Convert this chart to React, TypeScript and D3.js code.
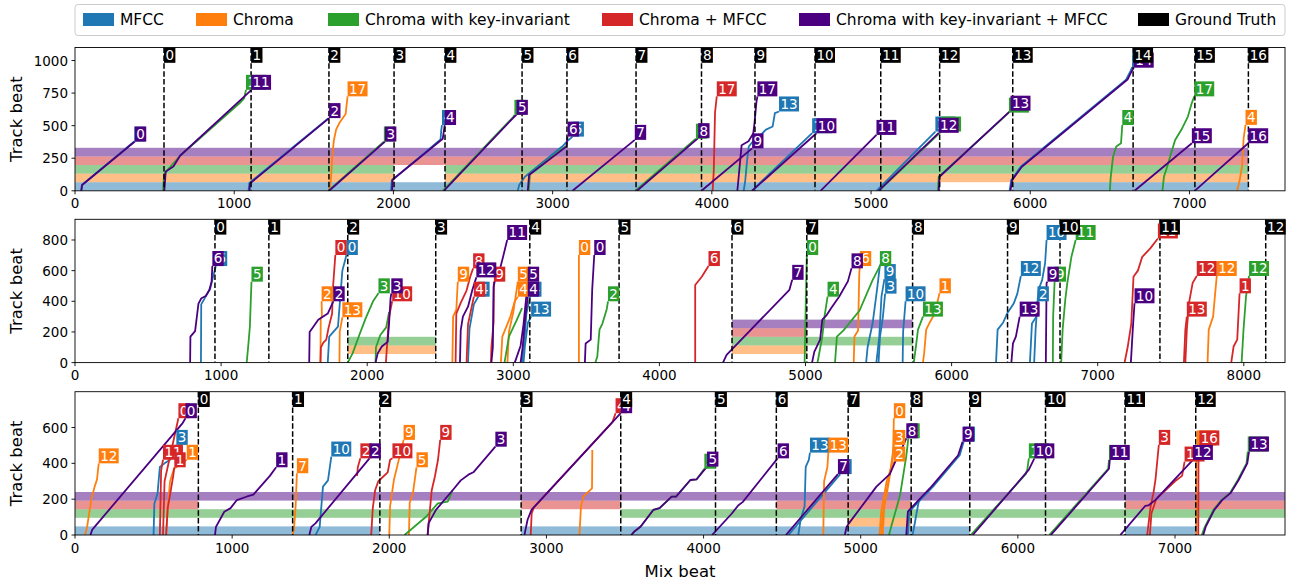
//@ts-nocheck
import React from 'react'
import * as d3 from 'd3'

type Seg = { label: string | null; pts: number[][] }

const methodNames = ['MFCC', 'Chroma', 'Chroma with key-invariant', 'Chroma + MFCC', 'Chroma with key-invariant + MFCC']
const methodColors = ['#1f77b4', '#ff7f0e', '#2ca02c', '#d62728', '#4b0082']

// ---------- panel 1 ----------
const p1Truth = [559, 1106, 1595, 2004, 2324, 2808, 3090, 3524, 3935, 4271, 4648, 5061, 5431, 5890, 6646, 7034, 7370]
const p1Bands = [
  [[0, 5431], [5890, 7370]],
  [[0, 2004], [2324, 7370]],
  [[0, 2004], [2324, 7370]],
  [[0, 7370]],
  [[0, 7370]]
]
const p1Mfcc: Seg[] = [
  { label: '0', pts: [[38, 0], [43, 45], [372, 378]] },
  { label: null, pts: [[1090, 0], [1095, 60], [1590, 555]] },
  { label: '4', pts: [[1985, 0], [1990, 80], [2296, 395], [2300, 460], [2305, 505]] },
  { label: '5', pts: [[2781, 0], [2790, 45], [2826, 108], [3060, 340], [3100, 390], [3125, 416]] },
  { label: '13', pts: [[4200, 0], [4210, 80], [4222, 240], [4232, 340], [4265, 390], [4300, 420], [4340, 470], [4382, 494], [4396, 596], [4422, 609]] },
  { label: '10', pts: [[4250, 0], [4630, 442]] },
  { label: '12', pts: [[5034, 0], [5404, 455]] },
  { label: '14', pts: [[5870, 0], [5880, 80], [5940, 185], [6600, 850], [6630, 920], [6640, 950]] }
]
const p1Chroma: Seg[] = [
  { label: '17', pts: [[1596, 0], [1605, 60], [1610, 135], [1615, 250], [1625, 380], [1640, 470], [1660, 520], [1700, 590], [1712, 725]] },
  { label: '4', pts: [[7300, 0], [7315, 80], [7330, 185], [7340, 400], [7352, 506]] }
]
const p1ChromaKi: Seg[] = [
  { label: '11', pts: [[553, 0], [560, 130], [660, 269], [1040, 680], [1062, 710], [1074, 775]] },
  { label: '3', pts: [[1590, 0], [1940, 378]] },
  { label: null, pts: [[2850, 0], [2858, 130], [2880, 150], [3080, 340]] },
  { label: '5', pts: [[2310, 0], [2755, 570], [2760, 583]] },
  { label: '8', pts: [[3520, 0], [3900, 400]] },
  { label: '12', pts: [[5050, 0], [5440, 455]] },
  { label: '13', pts: [[5420, 0], [5425, 108], [5866, 600]] },
  { label: '4', pts: [[6500, 0], [6505, 100], [6520, 262], [6540, 340], [6570, 365], [6578, 505]] },
  { label: '17', pts: [[6830, 0], [6840, 110], [6860, 185], [6885, 290], [6910, 390], [6950, 470], [6990, 570], [7015, 675], [7030, 725]] }
]
const p1ChromaMfcc: Seg[] = [
  { label: '17', pts: [[4005, 0], [4012, 150], [4020, 600], [4031, 725]] }
]
const p1KiMfcc: Seg[] = [
  { label: '0', pts: [[40, 0], [45, 45], [376, 378]] },
  { label: '11', pts: [[561, 0], [570, 149], [618, 187], [660, 269], [1100, 765], [1106, 775]] },
  { label: '2', pts: [[1095, 0], [1100, 57], [1596, 558]] },
  { label: '3', pts: [[1596, 0], [1947, 378]] },
  { label: '4', pts: [[1992, 0], [1994, 85], [2310, 400], [2322, 505]] },
  { label: '5', pts: [[2317, 0], [2760, 570], [2773, 583]] },
  { label: '6', pts: [[2844, 0], [2852, 121], [3086, 339], [3094, 416]] },
  { label: '7', pts: [[3125, 0], [3516, 391]] },
  { label: '8', pts: [[3530, 0], [3914, 404]] },
  { label: '9', pts: [[3935, 0], [4253, 326]] },
  { label: '17', pts: [[4160, 0], [4165, 60], [4187, 350], [4230, 380], [4260, 440], [4268, 520], [4280, 680], [4286, 725]] },
  { label: '10', pts: [[4253, 0], [4657, 442]] },
  { label: '11', pts: [[4683, 0], [5034, 429]] },
  { label: '12', pts: [[5047, 0], [5425, 445]] },
  { label: '13', pts: [[5425, 0], [5430, 108], [5876, 615]] },
  { label: '14', pts: [[5876, 0], [5886, 82], [5947, 185], [6611, 854], [6637, 918], [6650, 945]] },
  { label: '15', pts: [[6655, 0], [7015, 365]] },
  { label: '16', pts: [[7033, 0], [7369, 365]] }
]

// ---------- panel 2 ----------
const p2Truth = [958, 1327, 1867, 2469, 3113, 3724, 4497, 5009, 5733, 6383, 6742, 7426, 8150]
const p2Bands = [
  [],
  [[1867, 2469], [4497, 5009]],
  [[1867, 2469], [4497, 5733]],
  [[4497, 5009]],
  [[4497, 5733]]
]
const p2Mfcc: Seg[] = [
  { label: '6', pts: [[862, 0], [864, 380], [900, 440], [925, 480], [945, 560], [964, 630]] },
  { label: '0', pts: [[1730, 0], [1740, 170], [1800, 235], [1830, 600], [1858, 702]] },
  { label: '4', pts: [[2690, 0], [2700, 220], [2730, 380], [2760, 430]] },
  { label: '4', pts: [[3060, 0], [3075, 130], [3090, 320], [3115, 430]] },
  { label: '13', pts: [[3070, 0], [3080, 110], [3100, 260], [3122, 300]] },
  { label: null, pts: [[5415, 0], [5425, 100], [5460, 260], [5490, 480], [5510, 640]] },
  { label: '9', pts: [[5485, 0], [5505, 170], [5520, 430], [5540, 545]] },
  { label: '3', pts: [[5500, 0], [5510, 170], [5530, 300], [5545, 450]] },
  { label: '10', pts: [[5665, 0], [5668, 200], [5685, 400]] },
  { label: '12', pts: [[6304, 0], [6315, 215], [6352, 260], [6380, 320], [6425, 385], [6450, 450], [6474, 565]] },
  { label: '10', pts: [[6536, 0], [6550, 255], [6580, 300], [6595, 475], [6620, 540], [6640, 650], [6650, 800]] },
  { label: '2', pts: [[6565, 0], [6575, 215], [6588, 400]] }
]
const p2Chroma: Seg[] = [
  { label: '2', pts: [[1680, 0], [1682, 290], [1690, 300], [1688, 400]] },
  { label: '13', pts: [[1810, 0], [1812, 200], [1830, 296]] },
  { label: '9', pts: [[2583, 0], [2588, 300], [2610, 345], [2620, 528]] },
  { label: '4', pts: [[2915, 0], [2925, 170], [2980, 300], [3010, 400], [3031, 430]] },
  { label: '5', pts: [[2960, 0], [2970, 200], [3000, 330], [3031, 528]] },
  { label: '0', pts: [[3449, 0], [3449, 702]] },
  { label: '6', pts: [[5330, 0], [5335, 170], [5360, 210], [5368, 580], [5372, 630]] },
  { label: '1', pts: [[5804, 0], [5812, 60], [5826, 215], [5855, 270], [5885, 320], [5917, 452]] },
  { label: '12', pts: [[7752, 0], [7760, 215], [7790, 300], [7800, 410], [7815, 565]] }
]
const p2ChromaKi: Seg[] = [
  { label: '5', pts: [[1175, 0], [1185, 100], [1197, 235], [1203, 400], [1208, 528]] },
  { label: '3', pts: [[1867, 0], [1900, 60], [1950, 190], [1990, 290], [2040, 400], [2077, 452]] },
  { label: null, pts: [[2057, 0], [2060, 100], [2090, 180], [2130, 230], [2150, 330]] },
  { label: null, pts: [[2940, 0], [2970, 170], [3020, 270], [3060, 355]] },
  { label: '2', pts: [[3562, 0], [3575, 40], [3590, 215], [3610, 255], [3640, 350], [3648, 400]] },
  { label: '0', pts: [[4994, 0], [5000, 300], [5009, 702]] },
  { label: '4', pts: [[5082, 0], [5090, 40], [5115, 170], [5130, 300], [5151, 430]] },
  { label: '8', pts: [[5202, 0], [5215, 170], [5260, 210], [5370, 340], [5460, 540], [5509, 630]] },
  { label: '13', pts: [[5741, 0], [5755, 100], [5770, 215], [5804, 300]] },
  { label: '9', pts: [[6693, 0], [6695, 300], [6705, 528]] },
  { label: '11', pts: [[6750, 0], [6760, 215], [6778, 410], [6792, 520], [6820, 690], [6849, 800]] },
  { label: '12', pts: [[7985, 0], [7998, 215], [8015, 430], [8036, 565]] }
]
const p2ChromaMfcc: Seg[] = [
  { label: '0', pts: [[1680, 0], [1683, 100], [1700, 130], [1720, 150], [1735, 225], [1760, 320], [1765, 480], [1782, 702]] },
  { label: '10', pts: [[2128, 0], [2135, 100], [2150, 300], [2171, 400]] },
  { label: '8', pts: [[2605, 0], [2610, 320], [2640, 390], [2680, 470], [2705, 560], [2725, 615]] },
  { label: '4', pts: [[2680, 0], [2690, 250], [2730, 430]] },
  { label: '9', pts: [[2847, 0], [2850, 100], [2865, 260], [2867, 528]] },
  { label: '6', pts: [[4245, 0], [4245, 506], [4290, 560], [4336, 630]] },
  { label: '11', pts: [[7184, 0], [7205, 100], [7230, 255], [7245, 560], [7275, 600], [7305, 690], [7360, 745], [7412, 810]] },
  { label: '13', pts: [[7590, 0], [7600, 215], [7610, 300]] },
  { label: '12', pts: [[7600, 0], [7610, 215], [7625, 390], [7650, 520], [7678, 565]] },
  { label: '1', pts: [[7914, 0], [7930, 105], [7955, 150], [7971, 452]] }
]
const p2KiMfcc: Seg[] = [
  { label: '6', pts: [[788, 0], [790, 170], [822, 205], [845, 385], [865, 420], [895, 435], [920, 475], [935, 530], [940, 630]] },
  { label: '2', pts: [[1603, 0], [1606, 200], [1665, 280], [1730, 320], [1768, 400]] },
  { label: '3', pts: [[2057, 0], [2072, 60], [2100, 105], [2140, 135], [2150, 260], [2160, 420], [2165, 452]] },
  { label: '12', pts: [[2635, 0], [2640, 210], [2655, 300], [2690, 365], [2720, 475], [2747, 556]] },
  { label: '11', pts: [[2850, 0], [2860, 100], [2865, 495], [2880, 560], [2910, 615], [2930, 690], [2958, 800]] },
  { label: '5', pts: [[3010, 0], [3050, 110], [3070, 250], [3099, 528]] },
  { label: '4', pts: [[3050, 0], [3065, 110], [3080, 280], [3099, 430]] },
  { label: '0', pts: [[3490, 0], [3495, 125], [3530, 150], [3540, 475], [3554, 702]] },
  { label: '7', pts: [[4435, 0], [4460, 50], [4890, 475], [4909, 540]] },
  { label: '8', pts: [[5045, 0], [5060, 70], [5100, 150], [5115, 280], [5145, 310], [5175, 355], [5230, 430], [5290, 530], [5315, 615]] },
  { label: '13', pts: [[6409, 0], [6420, 125], [6440, 170], [6466, 300]] },
  { label: '9', pts: [[6645, 0], [6650, 520], [6656, 528]] },
  { label: '10', pts: [[7227, 0], [7240, 215], [7252, 387]] }
]

// ---------- panel 3 ----------
const p3Truth = [785, 1385, 1940, 2839, 3473, 4076, 4463, 4920, 5321, 5694, 6176, 6682, 7132]
const p3Bands = [
  [[0, 1940], [2839, 5694], [6682, 7132]],
  [[4920, 5321]],
  [[0, 2839], [3473, 7700]],
  [[0, 785], [2839, 3473], [4463, 5321], [6682, 7700]],
  [[0, 7700]]
]
const p3Mfcc: Seg[] = [
  { label: '3', pts: [[500, 0], [505, 175], [525, 230], [540, 380], [570, 400], [605, 420], [645, 503]] },
  { label: '10', pts: [[1531, 0], [1557, 45], [1578, 270], [1610, 305], [1631, 438]] },
  { label: '7', pts: [[4540, 0], [4870, 340]] },
  { label: '13', pts: [[4603, 0], [4617, 85], [4643, 160], [4650, 380], [4670, 420], [4677, 460]] },
  { label: null, pts: [[5330, 0], [5345, 70], [5355, 120], [5370, 190], [5380, 200]] },
  { label: '9', pts: [[5300, 0], [5310, 130], [5330, 150], [5460, 270], [5630, 445], [5655, 521]] }
]
const p3Chroma: Seg[] = [
  { label: '12', pts: [[64, 0], [77, 45], [103, 195], [125, 270], [140, 310], [151, 400]] },
  { label: '1', pts: [[580, 0], [590, 150], [605, 300], [630, 370], [711, 420]] },
  { label: '7', pts: [[1385, 0], [1393, 28], [1404, 160], [1412, 345]] },
  { label: '9', pts: [[2000, 0], [2005, 160], [2030, 310], [2055, 400], [2091, 531]] },
  { label: '5', pts: [[2125, 0], [2130, 180], [2150, 230], [2173, 378]] },
  { label: null, pts: [[3210, 0], [3220, 160], [3235, 215], [3290, 260], [3292, 475]] },
  { label: '13', pts: [[4762, 0], [4767, 300], [4775, 330], [4788, 380], [4794, 460]] },
  { label: '2', pts: [[5120, 0], [5130, 130], [5145, 200], [5165, 300], [5195, 380], [5211, 410]] },
  { label: '3', pts: [[5140, 0], [5150, 160], [5170, 250], [5185, 330], [5200, 430], [5211, 503]] },
  { label: '0', pts: [[5130, 0], [5140, 120], [5160, 220], [5180, 320], [5205, 430], [5211, 652]] },
  { label: '16', pts: [[7135, 0], [7137, 500]] }
]
const p3ChromaKi: Seg[] = [
  { label: null, pts: [[2097, 0], [2234, 102], [2309, 177], [2372, 186], [2403, 250]] },
  { label: '5', pts: [[3540, 0], [3560, 20], [3600, 47], [3680, 140], [3720, 150], [3797, 214], [3825, 214], [3916, 307], [3956, 311], [4005, 370]] },
  { label: '8', pts: [[5180, 0], [5195, 50], [5250, 220], [5290, 440], [5303, 540]] },
  { label: '10', pts: [[5700, 0], [6050, 340], [6060, 365], [6070, 428]] },
  { label: '11', pts: [[6200, 0], [6575, 370], [6580, 419]] },
  { label: '13', pts: [[7170, 0], [7190, 45], [7245, 140], [7295, 195], [7350, 235], [7400, 307], [7455, 400], [7463, 466]] }
]
const p3ChromaMfcc: Seg[] = [
  { label: '0', pts: [[560, 0], [570, 300], [620, 500], [650, 620], [658, 652]] },
  { label: '11', pts: [[540, 0], [548, 360], [560, 420]] },
  { label: '1', pts: [[580, 0], [590, 150], [610, 250], [625, 330], [632, 378]] },
  { label: '2', pts: [[1795, 330], [1800, 380], [1816, 428]] },
  { label: '10', pts: [[1885, 0], [1895, 150], [1910, 250], [1930, 300], [1990, 350], [2005, 420], [2020, 428]] },
  { label: '9', pts: [[2244, 0], [2270, 250], [2290, 325], [2310, 420], [2324, 531]] },
  { label: '4', pts: [[2900, 0], [2906, 120], [2920, 154], [3420, 630], [3440, 680]] },
  { label: '3', pts: [[6823, 0], [6845, 160], [6863, 235], [6876, 310], [6897, 503]] },
  { label: '11', pts: [[6840, 0], [6850, 120], [6880, 200], [7000, 300], [7045, 330], [7061, 410]] },
  { label: '16', pts: [[7148, 0], [7150, 500], [7155, 500]] }
]
const p3KiMfcc: Seg[] = [
  { label: '0', pts: [[98, 0], [110, 30], [685, 625], [703, 652]] },
  { label: '1', pts: [[891, 0], [897, 45], [950, 130], [990, 150], [1030, 195], [1095, 215], [1135, 225], [1240, 330], [1280, 378]] },
  { label: '2', pts: [[1491, 0], [1504, 45], [1530, 65], [1874, 428]] },
  { label: '3', pts: [[2244, 0], [2250, 65], [2297, 140], [2403, 250], [2455, 305], [2510, 340], [2535, 350], [2675, 493]] },
  { label: '4', pts: [[2860, 0], [2880, 85], [2905, 140], [3473, 680]] },
  { label: '5', pts: [[3540, 0], [3560, 20], [3600, 47], [3680, 140], [3720, 150], [3797, 214], [3825, 214], [3916, 307], [3956, 311], [4022, 382]] },
  { label: '6', pts: [[4054, 0], [4180, 120], [4220, 165], [4250, 185], [4471, 428]] },
  { label: '7', pts: [[4524, 0], [4855, 340]] },
  { label: '8', pts: [[4899, 0], [4910, 45], [4925, 65], [5100, 270], [5185, 340], [5225, 420], [5260, 480], [5290, 540]] },
  { label: '9', pts: [[5290, 0], [5300, 130], [5320, 150], [5450, 270], [5620, 445], [5648, 521]] },
  { label: '10', pts: [[5713, 0], [6070, 365], [6105, 428]] },
  { label: '11', pts: [[6210, 0], [6580, 370], [6585, 419]] },
  { label: '12', pts: [[6652, 0], [6810, 162], [6830, 165], [6876, 196], [7114, 419]] },
  { label: '13', pts: [[7180, 0], [7195, 45], [7250, 140], [7300, 195], [7355, 235], [7405, 307], [7460, 400], [7471, 466]] }
]

const xTicks1 = [0, 1000, 2000, 3000, 4000, 5000, 6000, 7000]
const xTicks2 = [0, 1000, 2000, 3000, 4000, 5000, 6000, 7000, 8000]
const yTicks1 = [0, 250, 500, 750, 1000]
const yTicks2 = [0, 200, 400, 600, 800]
const yTicks3 = [0, 200, 400, 600]

const panels = [
  { top: 47.5, xMax: 7600, yMax: 1100, xTicks: xTicks1, yTicks: yTicks1, truth: p1Truth, bands: p1Bands,
    series: [p1Mfcc, p1Chroma, p1ChromaKi, p1ChromaMfcc, p1KiMfcc] },
  { top: 219.3, xMax: 8282, yMax: 935, xTicks: xTicks2, yTicks: yTicks2, truth: p2Truth, bands: p2Bands,
    series: [p2Mfcc, p2Chroma, p2ChromaKi, p2ChromaMfcc, p2KiMfcc] },
  { top: 391.7, xMax: 7700, yMax: 800, xTicks: xTicks1, yTicks: yTicks3, truth: p3Truth, bands: p3Bands,
    series: [p3Mfcc, p3Chroma, p3ChromaKi, p3ChromaMfcc, p3KiMfcc] }
]

const LEFT = 75
const RIGHT = 1285
const PH = 143.3
const FONT = 'DejaVu Sans, sans-serif'
const LABEL_FS = 13.5
const BOX_H = 15

const boxWidth = (s: string) => s.length * 0.636 * LABEL_FS + 2.8

function TagBox({ x, y, text, fill }) {
  // y is the bottom edge of the box
  const w = boxWidth(text)
  return (
    <g>
      <rect x={x} y={y - BOX_H} width={w} height={BOX_H} fill={fill} />
      <text x={x + 1.4} y={y - 2.6} fontSize={LABEL_FS} fill="#fff">
        {text}
      </text>
    </g>
  )
}

function Panel({ p, idx, last }) {
  const bottom = p.top + PH
  const x = d3.scaleLinear().domain([0, p.xMax]).range([LEFT, RIGHT])
  const y = d3.scaleLinear().domain([0, p.yMax]).range([bottom, p.top])
  const line = d3.line().x((d) => x(d[0])).y((d) => y(d[1]))
  const bandH = p.yMax * 0.06
  const clipId = `clip-${idx}`

  return (
    <g>
      <defs>
        <clipPath id={clipId}>
          <rect x={LEFT} y={p.top} width={RIGHT - LEFT} height={PH} />
        </clipPath>
      </defs>
      <g clipPath={`url(#${clipId})`}>
        {p.bands.map((ranges, mi) =>
          ranges.map((r, k) => (
            <rect
              key={`b${mi}-${k}`}
              x={x(r[0])}
              width={x(r[1]) - x(r[0])}
              y={y((mi + 1) * bandH)}
              height={y(mi * bandH) - y((mi + 1) * bandH)}
              fill={methodColors[mi]}
              fillOpacity={0.5}
            />
          ))
        )}
        {p.series.map((segs, mi) =>
          segs.map((s, k) => (
            <path key={`l${mi}-${k}`} d={line(s.pts)} fill="none" stroke={methodColors[mi]} strokeWidth={1.8} strokeLinejoin="round" />
          ))
        )}
        {p.truth.map((t, k) => (
          <line key={`g${k}`} x1={x(t)} x2={x(t)} y1={p.top} y2={bottom} stroke="#000" strokeWidth={1.5} strokeDasharray="5.5,2.4" />
        ))}
      </g>
      {p.series.map((segs, mi) =>
        segs
          .filter((s) => s.label !== null)
          .map((s, k) => {
            const end = s.pts[s.pts.length - 1]
            return <TagBox key={`t${mi}-${k}`} x={x(end[0])} y={y(end[1])} text={s.label} fill={methodColors[mi]} />
          })
      )}
      {p.truth.map((t, k) => (
        <TagBox key={`gt${k}`} x={x(t)} y={p.top + BOX_H + 0.3} text={String(k)} fill="#000" />
      ))}
      <rect x={LEFT} y={p.top} width={RIGHT - LEFT} height={PH} fill="none" stroke="#000" strokeWidth={0.9} />
      {p.xTicks.map((t) => (
        <g key={`xt${t}`}>
          <line x1={x(t)} x2={x(t)} y1={bottom} y2={bottom + 3.5} stroke="#000" strokeWidth={0.9} />
          <text x={x(t)} y={bottom + 17.5} fontSize={13.5} textAnchor="middle" fill="#000">
            {t}
          </text>
        </g>
      ))}
      {p.yTicks.map((t) => (
        <g key={`yt${t}`}>
          <line x1={LEFT - 3.5} x2={LEFT} y1={y(t)} y2={y(t)} stroke="#000" strokeWidth={0.9} />
          <text x={LEFT - 7} y={y(t) + 5} fontSize={13.5} textAnchor="end" fill="#000">
            {t}
          </text>
        </g>
      ))}
      <text transform={`translate(22,${p.top + PH / 2}) rotate(-90)`} fontSize={16.5} textAnchor="middle" fill="#000">
        Track beat
      </text>
      {last && (
        <text x={(LEFT + RIGHT) / 2} y={577} fontSize={16.5} textAnchor="middle" fill="#000">
          Mix beat
        </text>
      )}
    </g>
  )
}

const legendX = [83, 196, 328, 602, 799, 1138]

export default function App() {
  const legendItems = [...methodNames.map((n, i) => ({ n, c: methodColors[i] })), { n: 'Ground Truth', c: '#000' }]
  return (
    <svg width={1293} height={580} style={{ position: 'absolute', left: 0, top: 0, background: '#fff' }} fontFamily={FONT}>
      <rect x={LEFT} y={4.5} width={RIGHT - LEFT} height={31} rx={3} fill="#fff" stroke="#ccc" strokeWidth={1} />
      {legendItems.map((it, i) => (
        <g key={it.n}>
          <rect x={legendX[i]} y={13} width={31} height={13} fill={it.c} />
          <text x={legendX[i] + 37} y={25} fontSize={15.5} fill="#000">
            {it.n}
          </text>
        </g>
      ))}
      {panels.map((p, i) => (
        <Panel key={i} p={p} idx={i} last={i === panels.length - 1} />
      ))}
    </svg>
  )
}
